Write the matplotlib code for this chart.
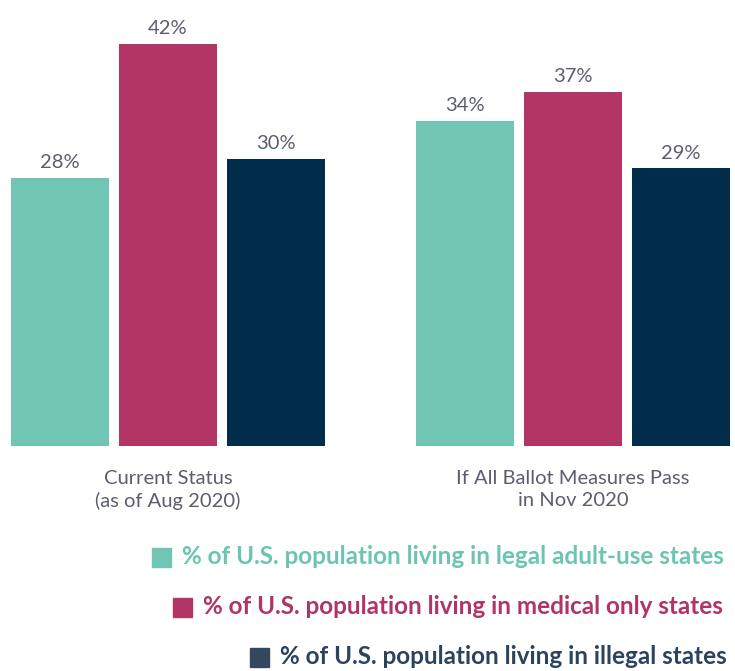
import matplotlib.pyplot as plt
from matplotlib.patches import Rectangle
import numpy as np

categories = ["Current Status\n(as of Aug 2020)", "If All Ballot Measures Pass\nin Nov 2020"]
legal_adult = [28, 34]
medical_only = [42, 37]
illegal = [30, 29]
series_labels = [
    "% of U.S. population living in legal adult-use states",
    "% of U.S. population living in medical only states",
    "% of U.S. population living in illegal states",
]

bar_colors = ["#70c6b3", "#b23566", "#022d4a"]
text_colors = ["#6cc5b0", "#b13467", "#2c4360"]
square_colors = ["#70c6b3", "#b23566", "#33475f"]
gray = "#5c5e6e"

fig = plt.figure(figsize=(7.35, 6.71), dpi=100)
ax = fig.add_axes([0, (671 - 446) / 671, 1, 446 / 671])

x = np.arange(len(categories))
off = 108 / 405
w = 98 / 405
for i, vals in enumerate([legal_adult, medical_only, illegal]):
    bars = ax.bar(x + (i - 1) * off, vals, width=w, color=bar_colors[i])
    for b, v in zip(bars, vals):
        ax.annotate(f"{v}%", (b.get_x() + b.get_width() / 2, v),
                    xytext=(0, 5), textcoords="offset points",
                    ha="center", va="bottom", fontsize=14.5,
                    family="Lato", color=gray)

ax.set_xlim(-168 / 405, (735 - 168) / 405)
ax.set_ylim(0, 446 / 9.57)
ax.set_xticks(x)
ax.set_xticklabels(categories, fontsize=14.5, family="Lato", color=gray)
for lbl in ax.get_xticklabels():
    lbl.set_linespacing(1.35)
ax.tick_params(axis="x", length=0, pad=17)
ax.set_yticks([])
for s in ax.spines.values():
    s.set_visible(False)

# legend, drawn by hand so it sits like the original
sq_x = [152, 173, 250]
rows_y = [557, 607, 657]
for lab, tc, sc, sx, ry in zip(series_labels, text_colors, square_colors, sq_x, rows_y):
    fig.patches.append(Rectangle((sx / 735, (671 - ry - 10) / 671), 19 / 735, 19 / 671,
                                 transform=fig.transFigure, color=sc))
    fig.text((sx + 30) / 735, (671 - ry) / 671, lab, ha="left", va="center",
             fontsize=17.5, family="Lato", fontweight="bold", color=tc)

fig.savefig("out.png", dpi=100)
